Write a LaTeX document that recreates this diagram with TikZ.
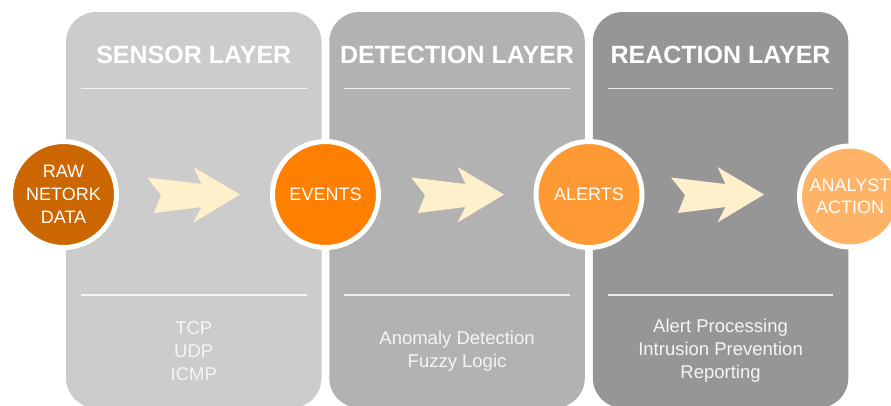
\documentclass[tikz,border=0pt]{standalone}
\usepackage{fontspec}
\setmainfont{Liberation Sans}
\usetikzlibrary{calc}
\definecolor{pA}{HTML}{CCCCCC}
\definecolor{pB}{HTML}{B2B2B2}
\definecolor{pC}{HTML}{969696}
\definecolor{cA}{HTML}{CC6600}
\definecolor{cB}{HTML}{FF8000}
\definecolor{cC}{HTML}{FF9933}
\definecolor{cD}{HTML}{FFB366}
\definecolor{arr}{HTML}{FFF0CC}
\begin{document}
\begin{tikzpicture}[x=1pt,y=-1pt,
  panel/.style={fill=#1, rounded corners=30pt, minimum width=255.5pt, minimum height=396pt, anchor=north west, inner sep=0pt, outer sep=0pt},
  hdr/.style={text=white, font=\fontsize{25}{30}\selectfont\bfseries, anchor=base, inner sep=0pt},
  body/.style={text=white!96!black, font=\fontsize{18.5}{23}\selectfont, align=center, inner sep=0pt},
  dot/.style={circle, fill=#1, draw=white, line width=5pt, minimum size=106pt, inner sep=0pt, text=white, font=\fontsize{18}{23}\selectfont, align=center},
  sep/.style={draw=white, line width=1.5pt, opacity=0.8},
  chevron/.pic={\fill[arr] (-93,-17) -- (-38.5,-10.5) -- (-46.5,-27.5) -- (0,0) -- (-46.5,28) -- (-38.5,12.5) -- (-86,18.5) -- (-79,0.5) -- cycle;}]
\clip (0,0) rectangle (891,405);
\fill[white] (0,0) rectangle (891,405);
% panels
\node[panel=pA] (p1) at (66,12) {};
\node[panel=pB] (p2) at (329.3,12) {};
\node[panel=pC] (p3) at (592.8,12) {};
% headers, separators, bodies
\foreach \p/\h/\b in {p1/SENSOR LAYER/{TCP\\UDP\\ICMP}, p2/DETECTION LAYER/{Anomaly Detection\\Fuzzy Logic}, p3/REACTION LAYER/{Alert Processing\\Intrusion Prevention\\Reporting}}{
  \node[hdr] (h\p) at ($(\p.north)+(0,51)$) {\h};
  \draw[sep] ($(\p.north west)+(15,76.3)$) -- ($(\p.north east)+(-15,76.3)$);
  \draw[sep] ($(\p.north west)+(15,283)$) -- ($(\p.north east)+(-15,283)$);
  \node[body] (b\p) at ($(\p.south)+(0,-57)$) {\b};
}
% circles
\node[dot=cA] (c0) at (63.5,194.5) {RAW\\NETORK\\DATA};
\node[dot=cB] (c1) at (325.5,194.5) {EVENTS};
\node[dot=cC] (c2) at (589,194.5) {ALERTS};
\node[dot=cD, minimum size=101pt, font=\fontsize{18}{22}\selectfont] (c3) at (850,196.5) {ANALYST\\ACTION};
% arrows
\pic at ($(c1.center)+(-85.5,0)$) {chevron};
\pic at ($(c2.center)+(-85,0)$) {chevron};
\pic at ($(c3.center)+(-86,-2)$) {chevron};
\end{tikzpicture}
\end{document}
